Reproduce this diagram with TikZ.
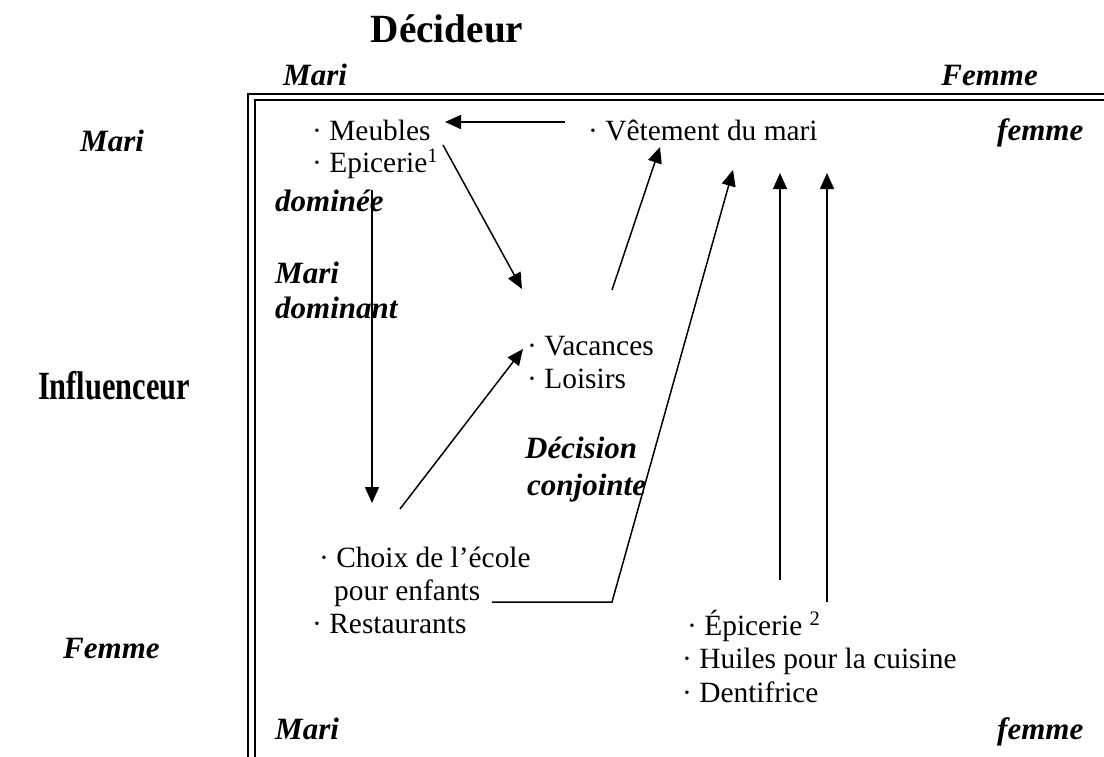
\documentclass[tikz,border=0pt]{standalone}
\usepackage{fontspec}
\setmainfont{Liberation Serif}
\usetikzlibrary{arrows.meta}
\begin{document}
\begin{tikzpicture}[x=1pt,y=-1pt,
  item/.style={anchor=base west, inner sep=0pt, font=\fontsize{29.4}{34}\selectfont},
  axislabel/.style={anchor=base west, inner sep=0pt, font=\fontsize{31}{36}\selectfont\bfseries\itshape},
  head/.style={inner sep=0pt, font=\fontsize{40}{44}\selectfont\bfseries},
  link/.style={line width=1.5pt, -{Triangle[length=16pt,width=14pt]}},
  frameouter/.style={line width=2.6pt},
  frameinner/.style={line width=1.4pt}
]
\useasboundingbox (0,0) rectangle (1104,756);

% double frame (top and left edges)
\draw[frameouter] (248,760) -- (248,94) -- (1110,94);
\draw[frameinner] (255,760) -- (255,100) -- (1110,100);

% axis titles
\node[head] (decideur) at (447,29) {\scalebox{0.98}[1]{Décideur}};
\node[head] (influenceur) at (114,386) {\scalebox{0.76}[1]{Influenceur}};

% axis labels
\node[axislabel] (topmari) at (283,85) {Mari};
\node[axislabel, anchor=base east] (topfemme) at (1038,85) {Femme};
\node[axislabel] (leftmari) at (80,151) {Mari};
\node[axislabel] (leftfemme) at (63,658) {Femme};
\node[axislabel] (rightfemme) at (997,140) {femme};
\node[axislabel] (dominee) at (275,211) {dominée};
\node[axislabel] (maridom) at (275,283) {Mari};
\node[axislabel] (dominant) at (275,318) {dominant};
\node[axislabel] (decision) at (525,458) {Décision};
\node[axislabel] (conjointe) at (527,495) {conjointe};
\node[axislabel] (botmari) at (275,739) {Mari};
\node[axislabel] (botfemme) at (997,739) {femme};

% product items
\node[item] (meubles) at (312,140) {· Meubles};
\node[item] (epicerieA) at (312,172) {· Epicerie\textsuperscript{1}};
\node[item] (vetement) at (588,140) {· Vêtement du mari};
\node[item] (vacances) at (527,355) {· Vacances};
\node[item] (loisirs) at (527,388) {· Loisirs};
\node[item] (choix) at (319,567) {· Choix de l’école};
\node[item] (enfants) at (334,600) {pour enfants};
\node[item] (restaurants) at (312,633) {· Restaurants};
\node[item] (epicerieB) at (687,635) {· Épicerie \textsuperscript{2}};
\node[item] (huiles) at (682,668) {· Huiles pour la cuisine};
\node[item] (dentifrice) at (682,702) {· Dentifrice};

% arrow end points
\coordinate (vetL) at (565,122);
\coordinate (meubR) at (445,122);
\coordinate (epiOut) at (443,145);
\coordinate (vacIn) at (522,289);
\coordinate (vacOut) at (612,290);
\coordinate (vetIn) at (660,147);
\coordinate (ecoleOut) at (492,602);
\coordinate (ecoleBend) at (612,602);
\coordinate (femIn) at (733,170);
\coordinate (epiBOut) at (780,580);
\coordinate (epiBIn) at (780,173);
\coordinate (huileOut) at (827,602);
\coordinate (huileIn) at (827,173);
\coordinate (domTop) at (372,190);
\coordinate (domBot) at (372,503);
\coordinate (ecoleUp) at (400,509);
\coordinate (vacLow) at (523,349);

% arrows
\draw[link] (vetL) -- (meubR);
\draw[link] (epiOut) -- (vacIn);
\draw[link] (vacOut) -- (vetIn);
\draw[link] (ecoleOut) -- (ecoleBend) -- (femIn);
\draw[link] (epiBOut) -- (epiBIn);
\draw[link] (huileOut) -- (huileIn);
\draw[link] (domTop) -- (domBot);
\draw[link] (ecoleUp) -- (vacLow);
\end{tikzpicture}
\end{document}
